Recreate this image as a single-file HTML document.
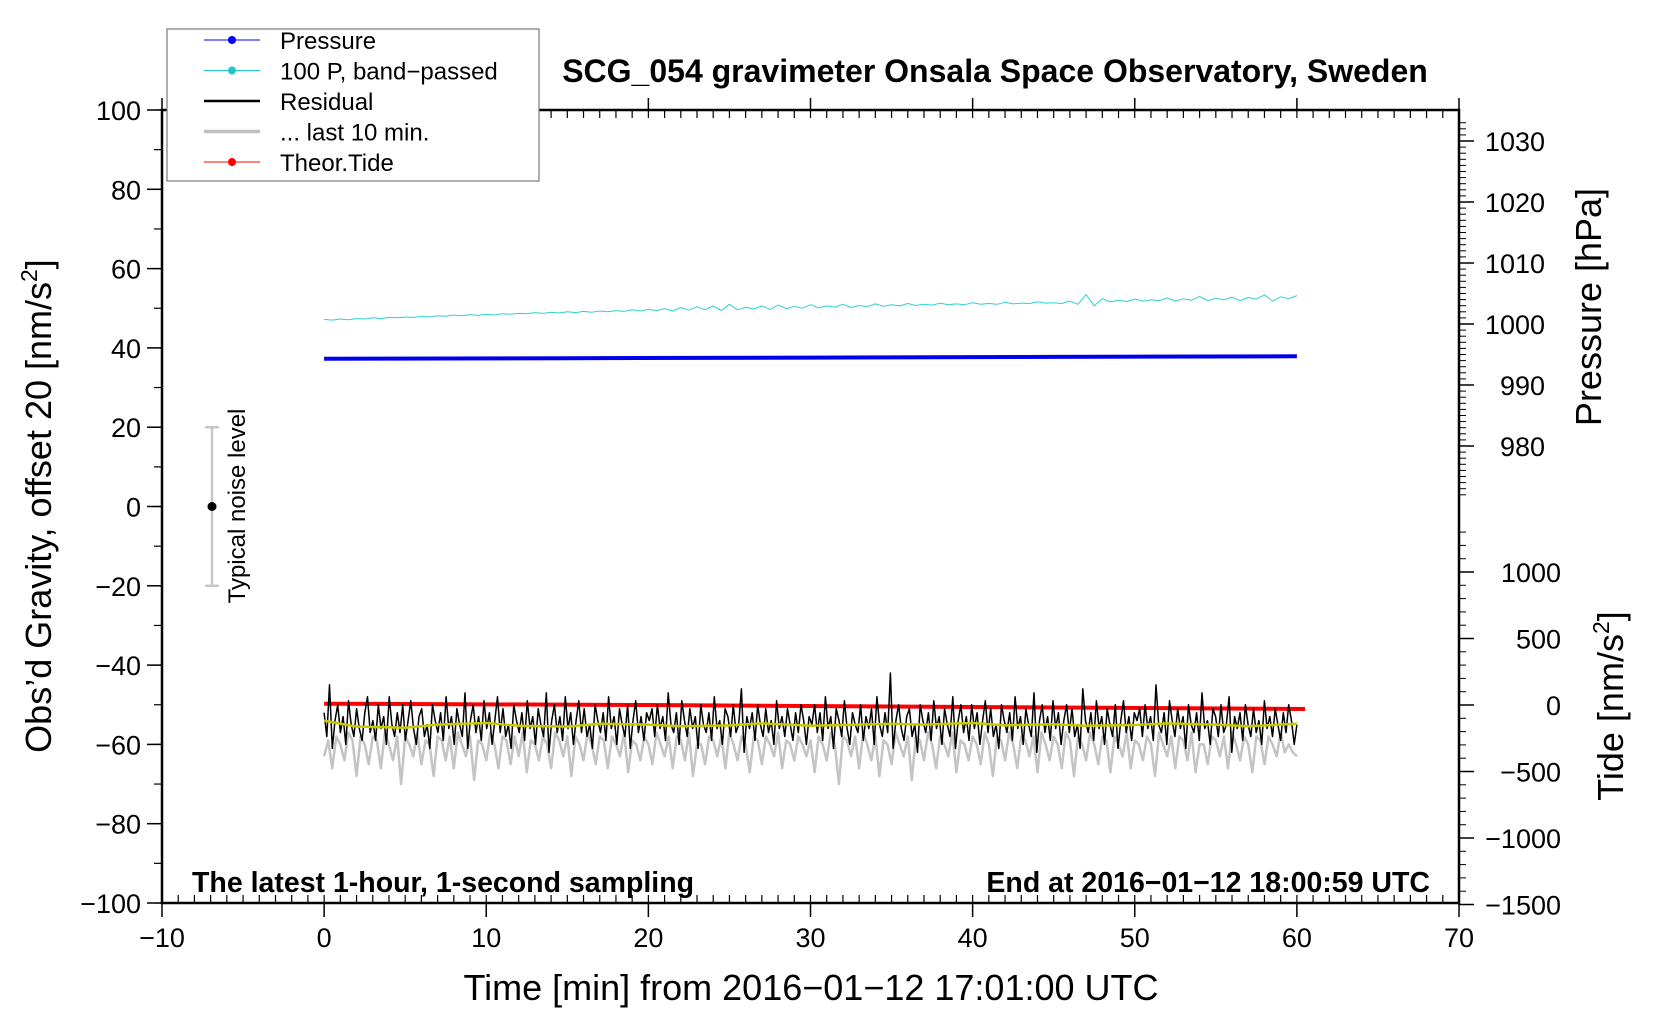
<!DOCTYPE html>
<html><head><meta charset="utf-8"><style>
html,body{margin:0;padding:0;background:#fff}
svg text{font-family:"Liberation Sans",Arial,sans-serif}
</style></head><body>
<svg id="chart" width="1660" height="1020" viewBox="0 0 1660 1020" xmlns="http://www.w3.org/2000/svg">
<g id="plot"></g>
</svg>
<script>
// ---- data ----
const xTicks=[-10,0,10,20,30,40,50,60,70];
const yTicks=[-100,-80,-60,-40,-20,0,20,40,60,80,100];
const pTicks=[980,990,1000,1010,1020,1030];
const tideTicks=[-1500,-1000,-500,0,500,1000];
const bandPassed=[47.2,47.0,47.3,47.1,47.4,47.3,47.6,47.4,47.7,47.6,47.8,47.7,48.0,47.8,48.1,48.0,48.3,48.1,48.4,48.2,48.5,48.3,48.6,48.5,48.7,48.6,48.9,48.7,49.0,48.8,49.1,48.9,49.2,49.0,49.3,49.1,49.4,49.2,49.6,49.3,49.7,49.4,49.9,49.3,50.2,49.5,50.4,49.6,50.6,49.4,51.0,49.6,50.3,49.8,50.6,49.7,50.8,49.9,50.5,50.0,50.9,50.1,50.6,50.3,51.0,50.2,50.7,50.4,51.1,50.5,50.9,50.6,51.2,50.7,51.0,50.8,51.3,50.9,51.1,50.9,51.4,51.0,51.2,51.0,51.5,51.1,51.3,51.2,51.6,51.3,51.4,51.2,51.8,51.0,53.5,50.6,52.4,51.6,52.0,51.7,52.3,51.8,52.1,51.9,52.6,51.8,52.4,52.0,53.0,51.9,52.5,52.1,52.8,51.9,52.7,52.3,53.4,51.8,52.9,52.4,53.2];
const pressureT=[0,15,30,45,60];
const pressure=[994.3,994.4,994.5,994.6,994.7];
const residual=[-52,-58,-45,-61,-54,-50,-57,-53,-60,-49,-55,-58,-51,-56,-59,-52,-48,-57,-54,-59,-50,-56,-53,-60,-48,-55,-58,-52,-57,-50,-59,-54,-49,-56,-60,-53,-51,-58,-55,-61,-50,-54,-57,-52,-59,-48,-56,-53,-60,-51,-55,-58,-47,-61,-54,-50,-57,-53,-59,-49,
-56,-52,-60,-54,-48,-57,-51,-58,-55,-61,-50,-54,-57,-52,-59,-49,-56,-53,-60,-51,-55,-58,-47,-62,-54,-50,-57,-53,-59,-48,-56,-52,-60,-54,-49,-57,-51,-58,-55,-61,-50,-54,-57,-52,-59,-48,-56,-53,-60,-51,-55,-58,-50,-61,-54,-49,-57,-53,-59,-52,
-54,-51,-58,-50,-56,-53,-59,-47,-55,-57,-52,-60,-49,-54,-58,-51,-56,-53,-61,-50,-55,-57,-52,-59,-48,-56,-54,-60,-51,-53,-58,-50,-57,-55,-46,-62,-53,-56,-52,-59,-50,-55,-58,-51,-57,-54,-60,-49,-56,-53,-58,-51,-55,-59,-52,-57,-50,-54,-60,-53,
-55,-50,-57,-52,-59,-48,-56,-53,-61,-51,-54,-58,-49,-56,-60,-52,-55,-57,-50,-59,-53,-56,-51,-60,-48,-55,-58,-52,-57,-42,-61,-54,-50,-56,-59,-53,-51,-58,-55,-62,-50,-54,-57,-52,-59,-49,-56,-53,-60,-51,-55,-58,-48,-61,-54,-50,-57,-53,-59,-50,
-56,-52,-60,-54,-49,-57,-51,-58,-55,-61,-50,-54,-57,-52,-59,-48,-56,-53,-60,-51,-55,-58,-47,-62,-54,-50,-57,-53,-59,-49,-56,-52,-60,-54,-50,-57,-51,-58,-55,-61,-46,-54,-57,-52,-59,-49,-56,-53,-60,-51,-55,-58,-50,-61,-54,-49,-57,-53,-59,-52,
-54,-51,-58,-50,-56,-53,-59,-45,-55,-57,-52,-60,-49,-54,-58,-51,-56,-53,-61,-50,-55,-57,-52,-59,-47,-56,-54,-60,-51,-53,-58,-50,-57,-55,-48,-62,-53,-56,-52,-59,-50,-55,-58,-51,-57,-54,-60,-49,-56,-53,-58,-51,-55,-59,-52,-57,-50,-54,-60,-55];
const lastTen=[-63,-59,-66,-58,-60,-64,-57,-59,-68,-58,-60,-65,-58,-59,-66,-57,-60,-64,-58,-70,-58,-60,-63,-57,-65,-59,-60,-68,-58,-59,-64,-58,-66,-57,-60,-63,-58,-69,-59,-60,-64,-57,-60,-66,-58,-59,-65,-58,-63,-57,-67,-59,-60,-64,-58,-60,-66,-57,-59,-63,
-58,-68,-58,-60,-64,-57,-60,-65,-58,-59,-66,-58,-60,-63,-57,-67,-59,-60,-64,-58,-60,-65,-57,-60,-63,-58,-66,-58,-59,-64,-57,-68,-60,-60,-65,-58,-59,-63,-58,-66,-57,-60,-64,-58,-60,-67,-58,-59,-65,-58,-60,-63,-57,-66,-59,-60,-64,-58,-60,-63,
-59,-67,-58,-60,-64,-57,-60,-70,-58,-59,-63,-58,-66,-57,-60,-64,-58,-68,-59,-60,-65,-57,-60,-63,-58,-69,-58,-59,-64,-57,-60,-66,-58,-60,-63,-57,-67,-59,-60,-64,-58,-60,-65,-57,-60,-68,-58,-59,-64,-57,-60,-66,-58,-59,-63,-58,-67,-57,-60,-64,
-58,-60,-66,-57,-59,-68,-58,-60,-64,-57,-60,-65,-58,-59,-67,-58,-60,-63,-57,-66,-59,-60,-64,-58,-60,-68,-57,-60,-63,-58,-66,-58,-59,-64,-57,-67,-60,-60,-65,-58,-59,-63,-58,-66,-57,-60,-64,-58,-60,-67,-58,-59,-65,-58,-60,-63,-57,-62,-60,-62,-63];
const smoothT=[0,2,5,7,10,12,15,17,20,22,25,27,30,32,35,37,40,42,45,47,50,52,55,57,60];
const smooth=[-54,-55.5,-55.8,-55,-54.6,-55.3,-55.5,-54.8,-55,-55.4,-55.2,-54.7,-55.3,-55.1,-54.8,-55,-54.6,-55.2,-54.9,-55.3,-55.1,-54.7,-55,-55.4,-54.8];
const tideT=[0,20,40,60.5];
const tide=[10,0,-15,-30];

// ---- axes ----
const X0=162,X1=1459,Y0=110,Y1=903;
const sx=v=>X0+(v+10)/80*(X1-X0);
const sy=v=>Y1-(v+100)/200*(Y1-Y0);
const sp=v=>446-(v-980)/50*(446-141);
const st=v=>705-v/1000*(705-572);
const NS='http://www.w3.org/2000/svg';
const g=document.getElementById('plot');
function mk(tag,attrs,parent){const e=document.createElementNS(NS,tag);for(const k in attrs)e.setAttribute(k,attrs[k]);(parent||g).appendChild(e);return e;}
function line(x1,y1,x2,y2,s,w,name){const e=mk('line',{x1,y1,x2,y2,stroke:s,'stroke-width':w});

return e;}
function txt(x,y,t,size,anchor,name,extra){const e=mk('text',Object.assign({x,y,'font-size':size,'text-anchor':anchor||'middle',fill:'#000'},extra||{}));e.textContent=t;

return e;}
function poly(xs,ys,color,w,name){const pts=xs.map((x,i)=>x.toFixed(1)+','+ys[i].toFixed(1)).join(' ');const e=mk('polyline',{points:pts,fill:'none',stroke:color,'stroke-width':w,'stroke-linejoin':'round'});

return e;}
const idxT=(arr)=>arr.map((_,i)=>i*60/(arr.length-1));

// data series
poly(idxT(lastTen).map(sx),lastTen.map(sy),'#c4c4c4',2.5,'last-10-min-line');
poly(tideT.map(sx),tide.map(st),'#ff0000',4,'theor-tide-line');
poly(idxT(residual).map(sx),residual.map(sy),'#000',1.5,'residual-line');
poly(smoothT.map(sx),smooth.map(sy),'#c8c800',2.5,'residual-smoothed-line');
poly(idxT(bandPassed).map(sx),bandPassed.map(sy),'#30d0d0',1,'band-passed-pressure-line');
poly(pressureT.map(sx),pressure.map(sp),'#0000ee',4,'pressure-line');

// frame
const fr=mk('rect',{x:X0,y:Y0,width:X1-X0,height:Y1-Y0,fill:'none',stroke:'#000','stroke-width':2.5});



const FS=27;
// x ticks
for(let m=-10;m<=70;m++){const x=sx(m);line(x,Y1,x,Y1-8,'#000',1.2,'x-minor-tick');line(x,Y0,x,Y0+8,'#000',1.2,'x-top-minor-tick');}
xTicks.forEach(v=>{const x=sx(v);line(x,Y1,x,Y1+14,'#000',1.5,'x-major-tick');line(x,Y0,x,Y0-12,'#000',1.5,'x-top-major-tick');txt(x,947,String(v).replace('-','\u2212'),FS,'middle','x-tick-label');});
// y left
for(let v=-100;v<=100;v+=10){line(X0,sy(v),X0-8,sy(v),'#000',1.2,'y-minor-tick');}
yTicks.forEach(v=>{line(X0,sy(v),X0-15,sy(v),'#000',1.5,'y-major-tick');txt(X0-21,sy(v)+10,String(v).replace('-','\u2212'),FS,'end','y-tick-label');});
// pressure right
for(let v=972;v<=1033;v++){line(X1,sp(v),X1+7,sp(v),'#000',1,'pressure-minor-tick');}
pTicks.forEach(v=>{line(X1,sp(v),X1+15,sp(v),'#000',1.5,'pressure-major-tick');txt(1545,sp(v)+10,String(v),FS,'end','pressure-tick-label');});
// tide right
for(let v=-1500;v<=1300;v+=100){line(X1,st(v),X1+7,st(v),'#000',1,'tide-minor-tick');}
tideTicks.forEach(v=>{line(X1,st(v),X1+15,st(v),'#000',1.5,'tide-major-tick');txt(1561,st(v)+10,String(v).replace('-','\u2212'),FS,'end','tide-tick-label');});

// noise bar
line(212,sy(20),212,sy(-20),'#c8c8c8',2.5,'noise-bar');
line(205,sy(20),219,sy(20),'#c8c8c8',2.5,'noise-bar-cap-top');
line(205,sy(-20),219,sy(-20),'#c8c8c8',2.5,'noise-bar-cap-bottom');
const dot=mk('circle',{cx:212,cy:sy(0),r:4.5,fill:'#000'});


txt(0,0,'Typical noise level',24,'middle','noise-label',{transform:'translate(245,506) rotate(-90)'});

// texts
txt(995,82,'SCG_054 gravimeter Onsala Space Observatory, Sweden',32,'middle','chart-title',{'font-weight':'bold'});
txt(192,892,'The latest 1-hour, 1-second sampling',28.5,'start','subtitle-left',{'font-weight':'bold'});
txt(1430,892,'End at 2016\u221201\u221212 18:00:59 UTC',28.5,'end','subtitle-right',{'font-weight':'bold'});
txt(811,1000,'Time [min] from 2016\u221201\u221212 17:01:00 UTC',36,'middle','x-axis-title');
const yl=txt(0,0,'',36,'middle','y-axis-title',{transform:'translate(51,506) rotate(-90)'});
yl.innerHTML='Obs\u2019d Gravity, offset 20 [nm/s<tspan dy="-14" font-size="23">2</tspan><tspan dy="14">]</tspan>';
txt(0,0,'Pressure [hPa]',36,'middle','pressure-axis-title',{transform:'translate(1601,307) rotate(-90)'});
const tl=txt(0,0,'',36,'middle','tide-axis-title',{transform:'translate(1623,706) rotate(-90)'});
tl.innerHTML='Tide [nm/s<tspan dy="-14" font-size="23">2</tspan><tspan dy="14">]</tspan>';

// legend
const lg=mk('g',{});


const lb=mk('rect',{x:167,y:29,width:372,height:152,fill:'#fff',stroke:'#777','stroke-width':1.2},lg);


const items=[['Pressure','#0000ff',1,true],['100 P, band\u2212passed','#20c8c8',1,true],['Residual','#000',2.5,false],['... last 10 min.','#c0c0c0',3.5,false],['Theor.Tide','#ff0000',1,true]];
items.forEach((it,i)=>{const y=40+i*30.5;
const l=mk('line',{x1:204,y1:y,x2:260,y2:y,stroke:it[1],'stroke-width':it[2]},lg);


if(it[3]){const c=mk('circle',{cx:232,cy:y,r:4,fill:it[1]},lg);

}
const t=txt(280,y+9,it[0],24,'start','legend-entry');lg.appendChild(t);});
</script>
</body></html>
